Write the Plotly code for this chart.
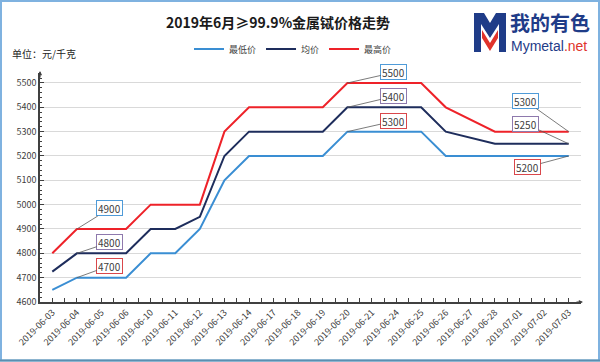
import plotly.graph_objects as go

dates = ["2019-06-03", "2019-06-04", "2019-06-05", "2019-06-06", "2019-06-10", "2019-06-11",
         "2019-06-12", "2019-06-13", "2019-06-14", "2019-06-17", "2019-06-18", "2019-06-19",
         "2019-06-20", "2019-06-21", "2019-06-24", "2019-06-25", "2019-06-26", "2019-06-27",
         "2019-06-28", "2019-07-01", "2019-07-02", "2019-07-03"]
low = [4650, 4700, 4700, 4700, 4800, 4800, 4900, 5100, 5200, 5200, 5200, 5200,
       5300, 5300, 5300, 5300, 5200, 5200, 5200, 5200, 5200, 5200]
avg = [4725, 4800, 4800, 4800, 4900, 4900, 4950, 5200, 5300, 5300, 5300, 5300,
       5400, 5400, 5400, 5400, 5300, 5275, 5250, 5250, 5250, 5250]
high = [4800, 4900, 4900, 4900, 5000, 5000, 5000, 5300, 5400, 5400, 5400, 5400,
        5500, 5500, 5500, 5500, 5400, 5350, 5300, 5300, 5300, 5300]
series_names = ["最低价", "均价", "最高价"]
y_ticks = [4600, 4700, 4800, 4900, 5000, 5100, 5200, 5300, 5400, 5500]

W, H = 600, 362
L, R, T, B = 40, 19, 73, 60
PW, PH = W - L - R, H - T - B


def px(x):
    return (x - L) / PW


def py(y):
    return (H - B - y) / PH


C_LOW, C_AVG, C_HIGH = "#3A8ED3", "#1E2D5C", "#EE2229"
B_BLUE, B_PURPLE, B_RED = "#4F9BD8", "#8E79AD", "#D9474B"
FONT = "Noto Sans CJK SC, Liberation Sans, sans-serif"
xi = list(range(len(dates)))

fig = go.Figure()
for name, vals, col in zip(series_names, [low, avg, high], [C_LOW, C_AVG, C_HIGH]):
    fig.add_trace(go.Scatter(x=xi, y=vals, mode="lines", name=name,
                             line=dict(color=col, width=2)))

annos = []


def label(i, vals, ax, ay, bcol):
    annos.append(dict(x=xi[i], y=vals[i], xref="x", yref="y", text=str(vals[i]),
                      showarrow=True, arrowhead=0, arrowwidth=0.8, arrowcolor="#595959",
                      ax=ax, ay=ay, standoff=0, bgcolor="white", bordercolor=bcol,
                      borderwidth=1, borderpad=1, height=12,
                      font=dict(family=FONT, size=10, color="#404040")))


label(1, high, 33, -20.5, B_BLUE)
label(1, avg, 33, -11, B_PURPLE)
label(1, low, 33, -12, B_RED)
label(12, high, 46.5, -10.5, B_BLUE)
label(12, avg, 46.5, -11, B_PURPLE)
label(12, low, 46.5, -10.5, B_RED)
label(21, high, -43, -30.6, B_BLUE)
label(21, avg, -43, -20, B_PURPLE)
label(21, low, -41, 11, B_RED)

# axis arrows
annos.append(dict(x=px(583), y=0, xref="paper", yref="paper", text="", showarrow=True,
                  arrowhead=2, arrowsize=0.7, arrowwidth=1.2, arrowcolor="#404040", ax=-8, ay=0))
annos.append(dict(x=0, y=py(71), xref="paper", yref="paper", text="", showarrow=True,
                  arrowhead=2, arrowsize=0.7, arrowwidth=1.2, arrowcolor="#404040", ax=0, ay=8))

# title & unit
annos.append(dict(x=px(278), y=py(22), xref="paper", yref="paper", showarrow=False,
                  text="<b>2019年6月≥99.9%金属铽价格走势</b>",
                  font=dict(family=FONT, size=14, color="#1a1a1a"),
                  xanchor="center", yanchor="middle"))
annos.append(dict(x=px(10), y=py(53), xref="paper", yref="paper", showarrow=False,
                  text="单位：元/千克", font=dict(family=FONT, size=10, color="#262626"),
                  xanchor="left", yanchor="middle"))
# logo text
annos.append(dict(x=px(509), y=py(23), xref="paper", yref="paper", showarrow=False,
                  text="<b>我的有色</b>", font=dict(family=FONT, size=20, color="#1F3C88"),
                  xanchor="left", yanchor="middle", borderpad=0))
annos.append(dict(x=px(510), y=py(46), xref="paper", yref="paper", showarrow=False,
                  text="Mymetal<span style='color:#E0332B'>.net</span>",
                  font=dict(family="Liberation Sans, Arial, sans-serif", size=14, color="#1F3C88"),
                  xanchor="left", yanchor="middle", borderpad=0))


def path(points):
    return "M " + " L ".join(f"{px(a):.5f},{py(b):.5f}" for a, b in points) + " Z"


shapes = [
    # navy M
    dict(type="path", xref="paper", yref="paper", line=dict(width=0), fillcolor="#1F3C88",
         path=path([(474, 52), (474, 13), (484, 13), (490, 23), (496, 13), (506, 13), (506, 52),
                    (499, 52), (499, 24), (490, 38), (481, 24), (481, 52)])),
    # red V
    dict(type="path", xref="paper", yref="paper", line=dict(width=0), fillcolor="#E0332B",
         path=path([(482, 30), (490, 43), (498, 30), (498, 38), (490, 51), (482, 38)])),
    # outer frame
    dict(type="rect", xref="paper", yref="paper", x0=px(1), x1=px(599), y0=py(360.5), y1=py(1),
         line=dict(color="#7FB2E0", width=2), fillcolor="rgba(0,0,0,0)"),
    dict(type="line", xref="paper", yref="paper", x0=px(0), x1=px(600), y0=py(360.5), y1=py(360.5),
         line=dict(color="#5A8FB0", width=2)),
]

fig.update_layout(
    width=W, height=H, template="none",
    margin=dict(l=L, r=R, t=T, b=B, autoexpand=False),
    paper_bgcolor="white", plot_bgcolor="white",
    font=dict(family=FONT, size=9, color="#404040"),
    showlegend=True,
    legend=dict(orientation="h", x=px(293), y=py(49), xanchor="center", yanchor="middle",
                font=dict(family=FONT, size=9, color="#404040"), bgcolor="rgba(0,0,0,0)",
                tracegroupgap=0, itemwidth=30),
    xaxis=dict(range=[-0.5, len(dates) - 0.5], tickmode="array", tickvals=xi, ticktext=dates,
               tickangle=-45, showgrid=False, zeroline=False, showline=True,
               linecolor="#404040", linewidth=1.5, ticks="inside", ticklen=4, tickcolor="#404040",
               minor=dict(tick0=-0.5, dtick=1, ticks="inside", ticklen=4, tickcolor="#404040"),
               tickfont=dict(size=9, color="#404040"), automargin=False),
    yaxis=dict(range=[4600, 5541], tickmode="array", tickvals=y_ticks, showgrid=True,
               gridcolor="#D9D9D9", gridwidth=1, zeroline=False, showline=True,
               linecolor="#404040", linewidth=1.5, ticks="inside", ticklen=4, tickcolor="#404040",
               minor=dict(dtick=20, ticks="inside", ticklen=2, tickcolor="#404040", showgrid=False),
               tickfont=dict(size=9, color="#404040"), automargin=False),
    annotations=annos, shapes=shapes,
)

fig.write_html("out.html", config={"displayModeBar": False},
               post_script="document.body.style.margin='0';document.body.style.padding='0';"
                           "document.body.style.overflow='hidden';")
